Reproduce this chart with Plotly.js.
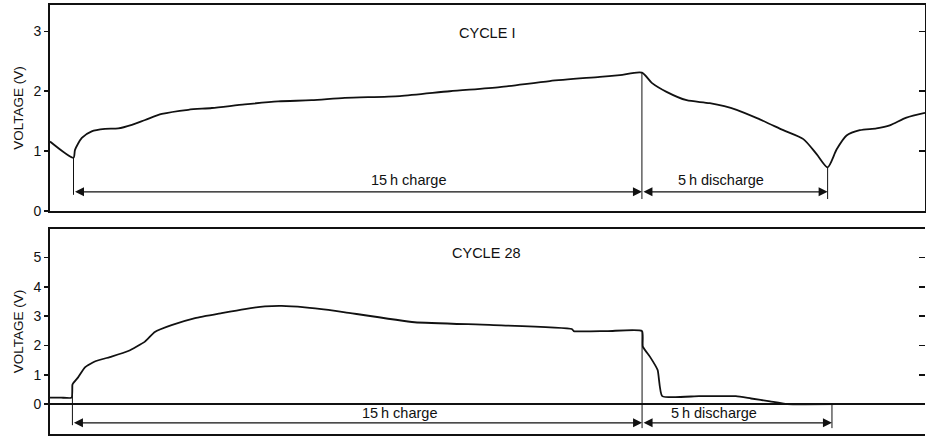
<!DOCTYPE html>
<html><head><meta charset="utf-8">
<script src="https://cdn.plot.ly/plotly-3.0.1.min.js"></script>
<style>html,body{margin:0;padding:0;background:#fff}#chart{width:926px;height:436px}</style>
</head><body><div id="chart"></div>
<script>
// ---- data (hours from start of charge, volts) ----
const cycle1Hours = [-0.62, 0, 0.04, 0.22, 0.48, 0.83, 1.18, 1.54, 1.89, 2.33, 3.03, 3.65, 4.52, 5.40, 6.28, 7.16, 8.61, 9.93, 11.25, 12.57, 13.89, 14.42, 15.0,
  15.26, 15.65, 16.18, 16.79, 17.50, 18.11, 18.73, 19.26, 19.61, 19.9, 20.14, 20.40, 20.75, 21.19, 21.54, 21.98, 22.47];
const cycle1Volts = [1.16, 0.89, 1.02, 1.22, 1.33, 1.37, 1.38, 1.44, 1.52, 1.62, 1.69, 1.72, 1.78, 1.83, 1.85, 1.89, 1.92, 2.00, 2.07, 2.17, 2.24, 2.27, 2.31,
  2.14, 1.99, 1.85, 1.80, 1.69, 1.53, 1.35, 1.20, 0.95, 0.73, 1.03, 1.26, 1.35, 1.38, 1.43, 1.56, 1.64];

const cycle28Hours = [-0.59, -0.3, -0.02, 0, 0.02, 0.15, 0.33, 0.59, 1.03, 1.47, 1.91, 2.17, 2.61, 3.23, 3.93, 4.54, 5.07, 5.51, 6.12, 6.74, 7.18, 9.01, 10.98, 13.15, 13.20, 14.1, 15.0,
  15.02, 15.21, 15.41, 15.53, 16.5, 17.47, 17.87, 18.37, 18.82, 20.5, 22.48];
const cycle28Volts = [0.22, 0.22, 0.22, 0.66, 0.71, 0.91, 1.25, 1.45, 1.62, 1.81, 2.13, 2.46, 2.69, 2.93, 3.10, 3.24, 3.33, 3.35, 3.30, 3.21, 3.13, 2.79, 2.70, 2.56, 2.49, 2.49, 2.49,
  1.96, 1.61, 1.16, 0.27, 0.27, 0.27, 0.19, 0.09, 0.0, 0.0, 0.0];

const cycle1Events = [0, 15, 19.9];   // start charge, end charge, end discharge
const cycle28Events = [0, 15, 20];
const phaseLabels = ['15\u2009h charge', '5\u2009h discharge'];
const panelTitles = ['CYCLE I', 'CYCLE 28'];
const yTicks1 = [0, 1, 2, 3];
const yTicks2 = [0, 1, 2, 3, 4, 5];
const yTitle = 'VOLTAGE (V)';

// ---- helpers ----
function valueAt(xs, ys, t) {
  for (let i = 1; i < xs.length; i++) {
    if (xs[i] >= t) {
      const f = (t - xs[i-1]) / ((xs[i] - xs[i-1]) || 1);
      return ys[i-1] + f * (ys[i] - ys[i-1]);
    }
  }
  return ys[ys.length-1];
}

const INK = '#111';
const FONT = 'Liberation Sans, Arial, Helvetica, sans-serif';

const traces = [
  {x: cycle1Hours, y: cycle1Volts, xaxis: 'x', yaxis: 'y', mode: 'lines', line: {color: INK, width: 1.8, shape: 'spline', smoothing: 0.7}, hoverinfo: 'skip'},
  {x: cycle28Hours, y: cycle28Volts, xaxis: 'x2', yaxis: 'y2', mode: 'lines', line: {color: INK, width: 1.8, shape: 'spline', smoothing: 0.45}, hoverinfo: 'skip'},
  {x: [], y: [], xaxis: 'x', yaxis: 'y3', mode: 'lines', showlegend: false},
  {x: [], y: [], xaxis: 'x2', yaxis: 'y4', mode: 'lines', showlegend: false}
];

const panels = [
  {xs: cycle1Hours, ys: cycle1Volts, ev: cycle1Events, xr: 'x', yr: 'y', arrowY: 0.32, textY: 0.52,
   bottoms: [0.27, 0.2, 0.2], titleY: 2.98, labelX: [8.83, 17.08]},
  {xs: cycle28Hours, ys: cycle28Volts, ev: cycle28Events, xr: 'x2', yr: 'y2', arrowY: -0.64, textY: -0.30,
   bottoms: [-0.72, -0.82, -0.82], titleY: 5.15, labelX: [8.6, 16.9]}
];

const shapes = [];
const annotations = [];
panels.forEach((p, k) => {
  p.ev.forEach((t, i) => {
    shapes.push({type: 'line', xref: p.xr, yref: p.yr, x0: t, x1: t,
      y0: valueAt(p.xs, p.ys, t), y1: p.bottoms[i], line: {color: INK, width: 1}});
  });
  for (let i = 0; i < 2; i++) {
    annotations.push({xref: p.xr, yref: p.yr, axref: p.xr, ayref: p.yr,
      x: p.ev[i+1], y: p.arrowY, ax: p.ev[i], ay: p.arrowY, text: '', showarrow: true,
      arrowside: 'end+start', arrowhead: 2, startarrowhead: 2, arrowsize: 1.5, startarrowsize: 1.5,
      arrowwidth: 1.2, arrowcolor: INK, standoff: 0, startstandoff: 0});
    annotations.push({xref: p.xr, yref: p.yr, x: p.labelX[i], y: p.textY, text: phaseLabels[i],
      showarrow: false, font: {family: FONT, size: 14.5, color: INK}});
  }
  annotations.push({xref: p.xr, yref: p.yr, x: 10.9, y: p.titleY, text: panelTitles[k],
    showarrow: false, font: {family: FONT, size: 14.5, color: INK}});
});

const xCommon = {showticklabels: false, ticks: '', showgrid: false, zeroline: false,
  showline: true, mirror: true, linecolor: INK, linewidth: 2};
const yCommon = {ticks: 'outside', ticklen: 4, tickwidth: 1.5, tickcolor: INK, showgrid: false,
  showline: true, linecolor: INK, linewidth: 2,
  tickfont: {family: FONT, size: 14, color: INK},
  title: {text: yTitle, font: {family: FONT, size: 13.5, color: INK}, standoff: 7}};
const rightTicks = {side: 'right', ticks: 'inside', ticklen: 6, tickwidth: 1.5, tickcolor: INK,
  showticklabels: false, showline: false, showgrid: false, zeroline: false};

const layout = {
  width: 926, height: 436,
  margin: {l: 50, r: 1, t: 5, b: 2},
  paper_bgcolor: '#fff', plot_bgcolor: '#fff',
  showlegend: false,
  xaxis: Object.assign({}, xCommon, {anchor: 'y', domain: [0, 1], range: [-0.62, 22.47]}),
  yaxis: Object.assign({}, yCommon, {anchor: 'x', domain: [0.5198, 1], range: [0, 3.44],
    tickvals: yTicks1, mirror: true, zeroline: false}),
  yaxis3: Object.assign({}, rightTicks, {overlaying: 'y', anchor: 'x', range: [0, 3.44], tickvals: yTicks1.slice(1)}),
  xaxis2: Object.assign({}, xCommon, {anchor: 'y2', domain: [0, 1], range: [-0.59, 22.45]}),
  yaxis2: Object.assign({}, yCommon, {anchor: 'x2', domain: [0, 0.4779], range: [-1.02, 5.97],
    tickvals: yTicks2, mirror: false, zeroline: true, zerolinecolor: INK, zerolinewidth: 2}),
  yaxis4: Object.assign({}, rightTicks, {overlaying: 'y2', anchor: 'x2', range: [-1.02, 5.97], tickvals: yTicks2.slice(1)}),
  shapes: shapes,
  annotations: annotations
};

Plotly.newPlot('chart', traces, layout, {displayModeBar: false, staticPlot: true});
</script>
</body></html>
